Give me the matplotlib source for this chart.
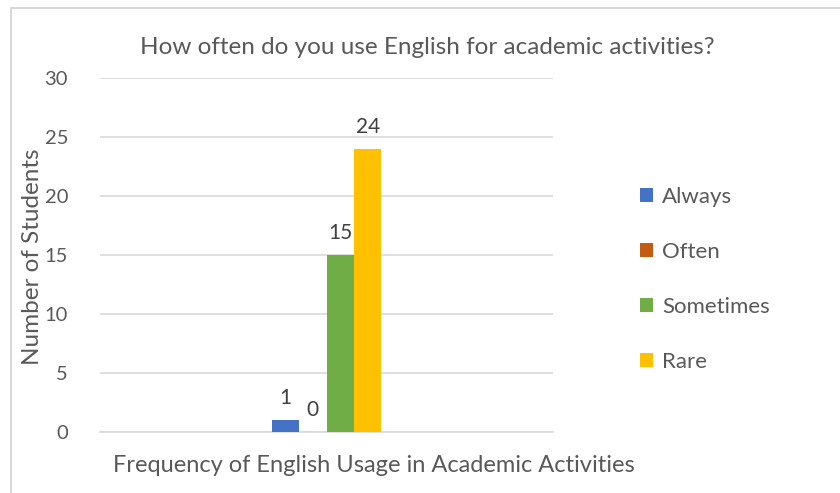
import matplotlib
matplotlib.use("Agg")
from matplotlib import pyplot as plt
from matplotlib.patches import Rectangle
import numpy as np

plt.rcParams['font.family'] = ['Lato', 'DejaVu Sans']

# survey answers
series = ["Always", "Often", "Sometimes", "Rare"]
counts = [1, 0, 15, 24]
colors = ["#4472C4", "#C55A11", "#70AD47", "#FFC000"]
yticks = [0, 5, 10, 15, 20, 25, 30]

title = "How often do you use English for academic activities?"
xlabel = "Frequency of English Usage in Academic Activities"
ylabel = "Number of Students"

text_col = "#595959"
grid_col = "#D9D9D9"

fig = plt.figure(figsize=(8.4, 4.93), dpi=100)
ax = fig.add_axes([100/840, 1 - 432/493, 453/840, (432 - 78)/493])

bar_w = 0.0607
offsets = (np.arange(len(series)) - (len(series) - 1) / 2) * bar_w
for off, val, col, name in zip(offsets, counts, colors, series):
    ax.bar(off, val, width=bar_w, color=col, label=name, zorder=3)
    ax.text(off, val + 1.0, str(val), ha="center", va="bottom",
            fontsize=15, color="#404040", zorder=4)

ax.set_xlim(-0.5, 0.5)
ax.set_ylim(0, 30)
ax.set_yticks(yticks)
ax.set_xticks([])
ax.tick_params(axis="y", length=0, pad=23, labelsize=14.5, labelcolor=text_col)
ax.yaxis.grid(True, color=grid_col, lw=1.2, zorder=0)
for s in ["top", "right", "left"]:
    ax.spines[s].set_visible(False)
ax.spines["bottom"].set_color(grid_col)
ax.spines["bottom"].set_linewidth(1.2)

fig.text(33/840, 1 - 257/493, ylabel, ha="center", va="center",
         rotation=90, fontsize=17.5, color=text_col)
fig.text(374/840, 1 - 466/493, xlabel, ha="center", va="center",
         fontsize=17, color=text_col)
fig.text(427/840, 1 - 47/493, title, ha="center", va="center",
         fontsize=17.5, color=text_col)

fig.legend(loc="upper left", bbox_to_anchor=(620/840, 1 - 167/493),
           frameon=False, fontsize=16, labelcolor=text_col,
           handlelength=0.6, handleheight=0.6, handletextpad=0.4,
           labelspacing=1.57)

# chart border
fig.patches.append(Rectangle((11/840, -0.05), 1.0, 1.05 - 8/493,
                             transform=fig.transFigure, fill=False,
                             edgecolor="#D9D9D9", lw=1.5))

fig.savefig("out.png", dpi=100)
